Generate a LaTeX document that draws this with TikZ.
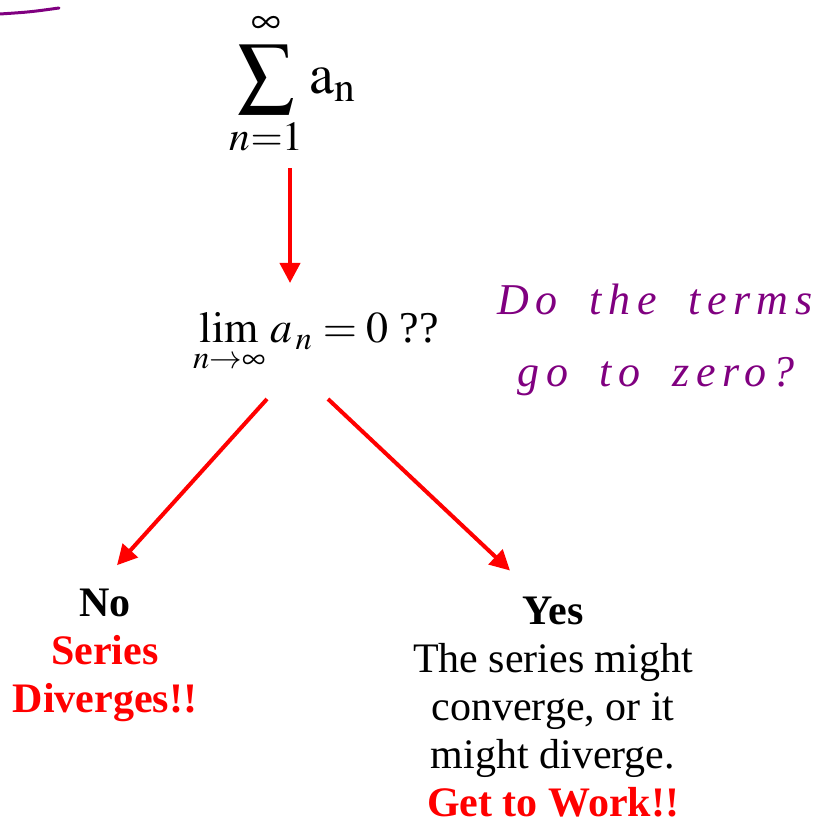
\documentclass[tikz,border=0pt]{standalone}
\usepackage{mathptmx}
\usepackage{fontspec}
\setmainfont{Liberation Serif}
\newfontfamily\inkfont[LetterSpace=15,WordSpace=1.8]{Liberation Serif}
\usepackage{tikz}
\usetikzlibrary{arrows.meta,calc}
\definecolor{arrowred}{RGB}{255,0,0}
\definecolor{inkpurple}{RGB}{128,0,128}

\begin{document}
\begin{tikzpicture}[
    x=0.5pt, y=-0.5pt,
    mathnode/.style={inner sep=0pt, font=\fontsize{22}{26}\selectfont},
    answer/.style={inner sep=0pt, align=center, font=\fontsize{21}{24}\selectfont},
    redarrow/.style={draw=arrowred, line width=2pt, -{Triangle[length=10pt,width=10pt]}},
    ink/.style={inkpurple, inner sep=0pt, align=left,
        font=\inkfont\fontsize{22}{36}\selectfont\itshape},
]
    \useasboundingbox (0,0) rectangle (835,823);

    % Stray pen mark
    \draw[inkpurple, line width=1.5pt, line cap=round] (0,14) .. controls (30,12) .. (59,8);

    % The series and the test
    \node[mathnode, font=\fontsize{28}{32}\selectfont] (sum) at (293,84) {$\displaystyle\sum_{n=1}^{\infty}\mathrm{a}_{\mathrm{n}}$};
    \node[mathnode] (lim) at (316,343) {$\lim\limits_{n\to\infty} a_{\,n} = 0$ ??};

    % Handwritten note
    \node[ink] (note) at (655,340) {Do the terms\\\hspace{10pt}go to zero?};

    % The two outcomes
    \node[answer] (no) at (105,655) {\textbf{No}\\\textcolor{arrowred}{\textbf{Series}}\\\textcolor{arrowred}{\textbf{Diverges!!}}};
    \node[answer] (yes) at (553,707) {\textbf{Yes}\\The series might\\converge, or it\\might diverge.\\\textcolor{arrowred}{\textbf{Get to Work!!}}};

    % Arrows
    \draw[redarrow] ($(sum.south)+(-3,11)$) -- ($(sum.south |- lim.north)+(-3,-29)$);
    \draw[redarrow] ($(lim.south)+(-49,25)$) -- ($(no.north)+(12,-23)$);
    \draw[redarrow] ($(lim.south)+(12,25)$) -- ($(yes.north)+(-43,-26)$);
\end{tikzpicture}
\end{document}
